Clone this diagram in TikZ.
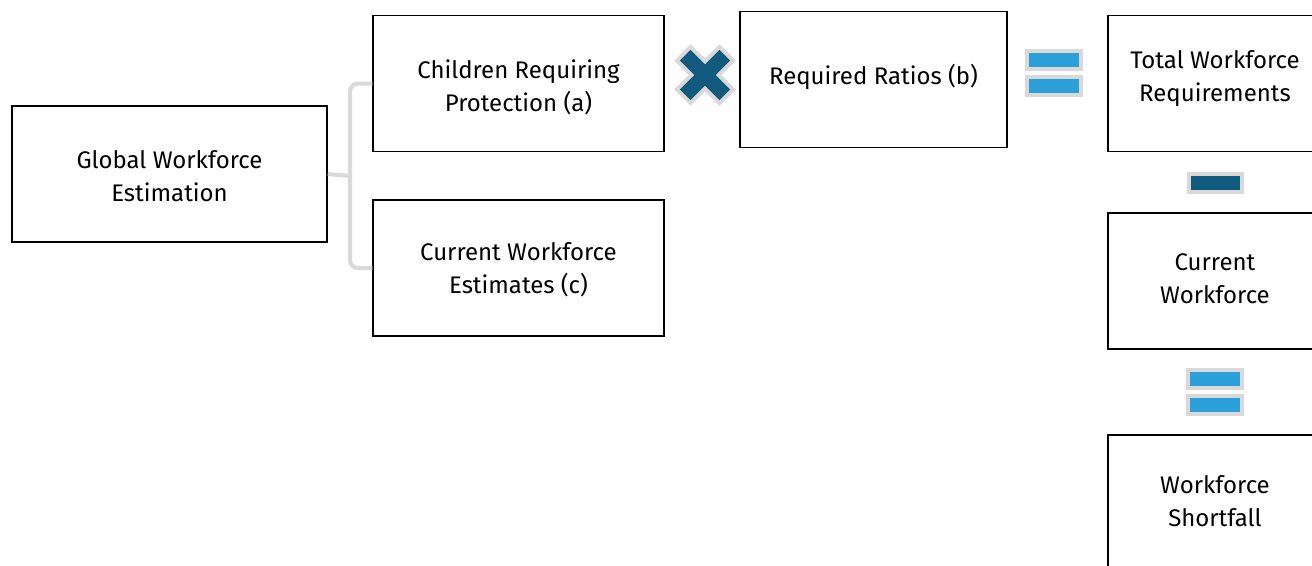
\documentclass[tikz,border=0pt]{standalone}
\usepackage{fontspec}
\setmainfont{Fira Sans}
\usepackage{tikz}
\definecolor{opdark}{RGB}{16,90,126}
\definecolor{oplight}{RGB}{42,159,216}
\definecolor{opgray}{RGB}{217,217,217}
\newcommand{\lift}[2]{\raisebox{#1}[\height][\depth]{#2}}
\tikzset{
	box/.style={draw,line width=1.5pt,align=center,minimum height=136pt,inner sep=2pt,font=\fontsize{24}{33}\selectfont},
	opbar/.style={rectangle,inner sep=0pt,minimum width=54pt,minimum height=18pt,fill=oplight,draw=opgray,line width=4pt},
	arm/.style={rectangle,inner sep=0pt,minimum width=56pt,minimum height=15pt}
}

\begin{document}
\begin{tikzpicture}[x=1pt,y=-1pt]
\useasboundingbox (0,0) rectangle (1312,565);
\clip (0,0) rectangle (1312,565);
\node (global) [box,minimum width=315pt] at (169.5,174) {\lift{-2pt}{Global Workforce}\\\lift{-2pt}{Estimation}};
\node (children) [box,minimum width=291pt] at (518.5,83.5) {\lift{-4pt}{Children Requiring}\\\lift{-4pt}{Protection (a)}};
\node (current) [box,minimum width=291pt] at (518.5,268) {\lift{-2pt}{Current Workforce}\\\lift{-2pt}{Estimates (c)}};
\node (ratios) [box,minimum width=267pt] at (873.5,79.5) {\lift{3pt}{Required Ratios (b)}};
\node (total) [box,minimum width=214pt] at (1215,83.5) {\lift{5pt}{Total Workforce}\\\lift{5pt}{Requirements}};
\node (curwork) [box,minimum width=214pt] at (1215,281) {\lift{2pt}{Current}\\\lift{2pt}{Workforce}};
\node (shortfall) [box,minimum width=214pt] at (1215,503) {\lift{2pt}{Workforce}\\\lift{2pt}{Shortfall}};
\coordinate (mid) at (350,176);
\draw[opgray,line width=4pt,rounded corners=8pt] (children.west) -| (mid) |- (current.west);
\draw[opgray,line width=4pt] (mid) -- (global.east);
\foreach \a in {45,-45}
	\node (times\a) [arm,fill=opgray,draw=opgray,line width=8pt,rotate=\a] at (705,75) {};
\foreach \a in {45,-45}
	\node [arm,fill=opdark,rotate=\a] at (705,75) {};
\node (eqa) [opbar] at (1054,60) {};
\node (eqb) [opbar] at (1054,86) {};
\node (minus) [opbar,fill=opdark,minimum width=53pt] at (1215.5,183) {};
\node (eqc) [opbar] at (1215,379) {};
\node (eqd) [opbar] at (1215,405) {};
\end{tikzpicture}
\end{document}
